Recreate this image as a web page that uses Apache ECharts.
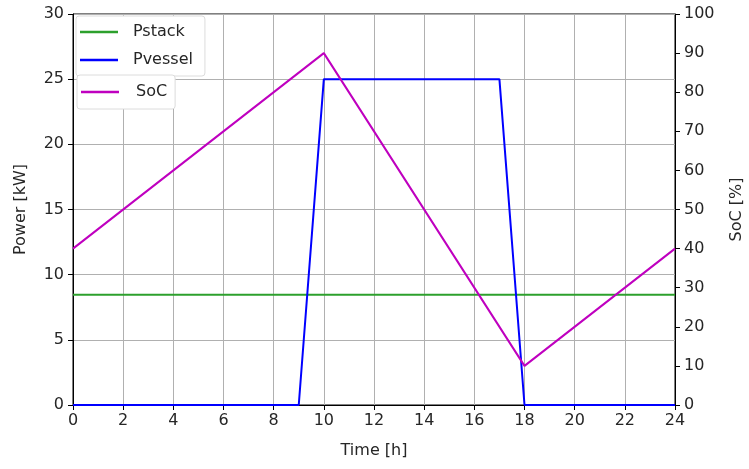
<!DOCTYPE html>
<html>
<head>
<meta charset="utf-8">
<script src="https://cdn.jsdelivr.net/npm/echarts@6/dist/echarts.min.js"></script>
<style>
  html, body { margin: 0; padding: 0; background: #fff; }
  #chart { width: 749px; height: 469px; }
</style>
</head>
<body>
<div id="chart"></div>
<script>
// Daily power profile of the stack and vessel, plus storage state of charge
const stackTime = [0, 24];
const stackPower = [8.45, 8.45];

const vesselTime = [0, 9, 10, 17, 18, 24];
const vesselPower = [0, 0, 25, 25, 0, 0];

const socTime = [0, 10, 18, 24];
const socValues = [40, 90, 10, 40];

const pairs = (xs, ys) => xs.map((x, i) => [x, ys[i]]);

const font = 'DejaVu Sans';
const fs = 16;
const ink = '#262626';
const chart = echarts.init(document.getElementById('chart'), null, { renderer: 'canvas' });

const legendBox = {
  orient: 'vertical', icon: 'rect',
  itemWidth: 38, itemHeight: 2.5,
  backgroundColor: '#fff', borderColor: '#dcdcdc', borderWidth: 1, borderRadius: 3
};

chart.setOption({
  animation: false,
  backgroundColor: '#ffffff',
  textStyle: { fontFamily: font },
  grid: {
    left: 73, right: 74, top: 14, bottom: 64,
    outerBoundsMode: 'none', containLabel: false,
    show: true, borderColor: '#000', borderWidth: 1, backgroundColor: 'transparent'
  },
  legend: [
    Object.assign({}, legendBox, {
      data: ['Pstack', 'Pvessel'],
      left: 76, top: 16, itemGap: 12,
      padding: [8, 12, 8, 4],
      textStyle: { fontFamily: font, fontSize: fs, color: ink, padding: [0, 0, 0, 10] }
    }),
    Object.assign({}, legendBox, {
      data: ['SoC'],
      left: 77, top: 75,
      padding: [9, 8, 9, 4],
      textStyle: { fontFamily: font, fontSize: fs, color: ink, padding: [0, 0, 0, 12] }
    })
  ],
  xAxis: {
    type: 'value', min: 0, max: 24, interval: 2,
    name: 'Time [h]', nameLocation: 'middle', nameGap: 38,
    nameTextStyle: { fontFamily: font, fontSize: fs, color: ink },
    axisLine: { show: true, lineStyle: { color: '#000' } },
    axisTick: { show: true, length: 5, lineStyle: { color: '#000' } },
    axisLabel: { fontFamily: font, fontSize: fs, color: ink, margin: 8 },
    splitLine: { show: true, lineStyle: { color: '#b0b0b0', width: 1 } }
  },
  yAxis: [
    {
      type: 'value', min: 0, max: 30, interval: 5, position: 'left',
      name: 'Power [kW]', nameLocation: 'middle', nameGap: 44, nameRotate: 90,
      nameTextStyle: { fontFamily: font, fontSize: fs, color: ink },
      axisLine: { show: true, lineStyle: { color: '#000' } },
      axisTick: { show: true, length: 5, lineStyle: { color: '#000' } },
      axisLabel: { fontFamily: font, fontSize: fs, color: ink, margin: 9 },
      splitLine: { show: true, lineStyle: { color: '#b0b0b0', width: 1 } }
    },
    {
      type: 'value', min: 0, max: 100, interval: 10, position: 'right',
      name: 'SoC [%]', nameLocation: 'middle', nameGap: 54, nameRotate: 90,
      nameTextStyle: { fontFamily: font, fontSize: fs, color: ink },
      axisLine: { show: true, lineStyle: { color: '#000' } },
      axisTick: { show: true, length: 5, lineStyle: { color: '#000' } },
      axisLabel: { fontFamily: font, fontSize: fs, color: ink, margin: 9 },
      splitLine: { show: false }
    }
  ],
  series: [
    {
      name: 'Pstack', type: 'line', yAxisIndex: 0,
      data: pairs(stackTime, stackPower),
      symbol: 'none', lineStyle: { color: '#2ca02c', width: 2 }, itemStyle: { color: '#2ca02c' }
    },
    {
      name: 'Pvessel', type: 'line', yAxisIndex: 0,
      data: pairs(vesselTime, vesselPower),
      symbol: 'none', lineStyle: { color: '#0000ff', width: 2 }, itemStyle: { color: '#0000ff' }
    },
    {
      name: 'SoC', type: 'line', yAxisIndex: 1,
      data: pairs(socTime, socValues),
      symbol: 'none', lineStyle: { color: '#bf00bf', width: 2 }, itemStyle: { color: '#bf00bf' }
    }
  ]
});
</script>
</body>
</html>
